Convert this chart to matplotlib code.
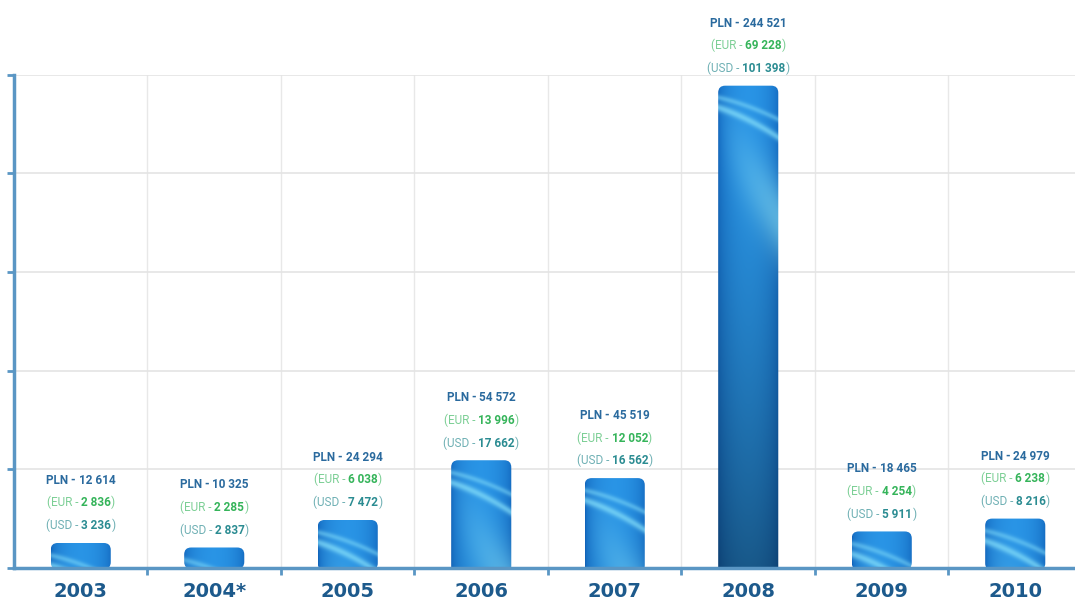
import numpy as np
import matplotlib.pyplot as plt
from matplotlib.patches import FancyBboxPatch
from matplotlib.offsetbox import TextArea, HPacker, AnnotationBbox

years = ["2003", "2004*", "2005", "2006", "2007", "2008", "2009", "2010"]
pln = [12614, 10325, 24294, 54572, 45519, 244521, 18465, 24979]
eur = [2836, 2285, 6038, 13996, 12052, 69228, 4254, 6238]
usd = [3236, 2837, 7472, 17662, 16562, 101398, 5911, 8216]


def fmt(v):
    return f"{v:,}".replace(",", " ")


DPI = 100
fig = plt.figure(figsize=(10.75, 5.99), dpi=DPI)
ax = fig.add_axes([0.013, 0.052, 0.9935, 0.823])
plt.rcParams['font.family'] = ['Roboto', 'DejaVu Sans']

x = np.arange(len(years))
bw = 0.45
ax.set_xlim(-0.5, len(years) - 0.5)
ax.set_ylim(0, 250000)

bars = ax.bar(x, pln, width=bw, color="none", zorder=2)

# pixel scale of the axes, for rounding and the texture
fig.canvas.draw()
bb = ax.get_window_extent()
xpp = (len(years)) / bb.width
ypp = 250000 / bb.height

dark = np.array([0.07, 0.40, 0.74])
mid = np.array([0.16, 0.58, 0.90])
light = np.array([0.50, 0.86, 0.98])

for rect in bars:
    x0, w, h = rect.get_x(), rect.get_width(), rect.get_height()
    wp = int(round(w / xpp))
    hp = max(int(round(h / ypp)), 2)
    yy, xx = np.mgrid[0:hp, 0:wp].astype(float)
    u = xx / max(wp - 1, 1)
    t = np.sin(np.pi * u) ** 0.5
    img = dark + (mid - dark) * t[..., None]
    s1 = np.exp(-((yy - (12 + 14 * u + 8 * u ** 2)) / 3.0) ** 2) * 0.5
    s2 = np.exp(-((yy - (22 + 20 * u + 10 * u ** 2)) / 4.0) ** 2) * 0.7
    glow = np.exp(-((yy - (45 + 90 * u)) / 40.0) ** 2) * u * 0.7
    mix = np.clip(s1 + s2 + glow, 0, 1)[..., None]
    img = img * (1 - mix) + light * mix
    shade = 1 - 0.4 * (yy / 480.0) ** 1.5
    img = np.clip(img * shade[..., None], 0, 1)

    r = 7 * xpp
    patch = FancyBboxPatch((x0, -h * 0.05), w, h * 1.05,
                           boxstyle=f"round,pad=0,rounding_size={r}",
                           mutation_aspect=ypp / xpp,
                           facecolor="none", edgecolor="none",
                           transform=ax.transData)
    ax.add_patch(patch)
    im = ax.imshow(img, extent=(x0, x0 + w, 0, h), aspect="auto",
                   zorder=2, interpolation="bilinear")
    im.set_clip_path(patch)

ax.set_xlim(-0.5, len(years) - 0.5)
ax.set_ylim(0, 250000)

# value labels above the bars
lines = [
    ("PLN - ", "#2a6a9e", "bold", pln, "#2a6a9e", 45, ""),
    ("(EUR - ", "#7ccf95", "normal", eur, "#35b45a", 29, ")"),
    ("(USD - ", "#6fb0b4", "normal", usd, "#2b8c92", 12.5, ")"),
]
for i in range(len(years)):
    for pre, pc, pw, vals, nc, off, post in lines:
        parts = [TextArea(pre, textprops=dict(color=pc, fontsize=8.5, fontweight=pw)),
                 TextArea(fmt(vals[i]), textprops=dict(color=nc, fontsize=8.5, fontweight="bold"))]
        if post:
            parts.append(TextArea(post, textprops=dict(color=pc, fontsize=8.5)))
        box = HPacker(children=parts, pad=0, sep=0, align="baseline")
        ab = AnnotationBbox(box, (x[i], pln[i]), xybox=(0, off),
                            boxcoords="offset points", frameon=False,
                            box_alignment=(0.5, 0.5), annotation_clip=False)
        ax.add_artist(ab)

# axes styling
spine_c = "#5a96c4"
for s in ["top", "right"]:
    ax.spines[s].set_visible(False)
for s in ["left", "bottom"]:
    ax.spines[s].set_color(spine_c)
    ax.spines[s].set_linewidth(2.5)

ax.set_yticks(np.arange(0, 250001, 50000))
ax.set_yticklabels([])
ax.tick_params(axis="y", length=5, width=2, color=spine_c, direction="out")
ax.set_xticks(x)
ax.set_xticklabels(years, fontsize=14, fontweight="bold", color="#1d5a8c")
ax.tick_params(axis="x", length=0, pad=10)
ax.set_xticks(x[:-1] + 0.5, minor=True)
ax.tick_params(axis="x", which="minor", length=5, width=2, color=spine_c)

ax.grid(True, axis="y", color="#e4e4e4", linewidth=1.2, zorder=0)
ax.grid(True, axis="x", which="minor", color="#e8e8e8", linewidth=1.0, zorder=0)
ax.set_axisbelow(True)

fig.savefig("out.png", dpi=DPI)
